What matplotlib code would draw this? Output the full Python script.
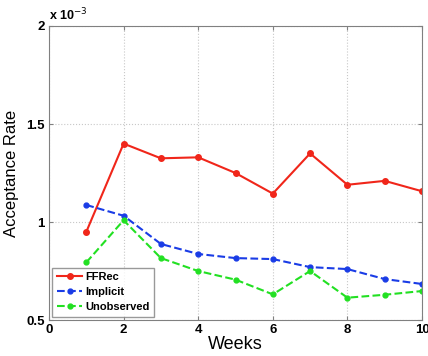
import matplotlib
matplotlib.use("Agg")
import matplotlib.pyplot as plt

plt.rcParams["font.family"] = ["Liberation Sans", "DejaVu Sans"]

# values, in units of 1e-3
weeks = [1, 2, 3, 4, 5, 6, 7, 8, 9, 10]
ffrec = [0.95, 1.40, 1.325, 1.33, 1.25, 1.145, 1.35, 1.19, 1.21, 1.157]
implicit = [1.087, 1.032, 0.888, 0.837, 0.816, 0.811, 0.770, 0.760, 0.709, 0.684]
unobserved = [0.794, 1.009, 0.816, 0.750, 0.706, 0.631, 0.750, 0.614, 0.629, 0.648]

x_ticks = [0, 2, 4, 6, 8, 10]
y_ticks = [0.5, 1, 1.5, 2]
y_labels = ["0.5", "1", "1.5", "2"]

fig = plt.figure(figsize=(4.28, 3.56), dpi=100)
ax = fig.add_axes([0.1145, 0.101, 0.8715, 0.826])

ax.plot(weeks, ffrec, color="#f0261a", linestyle="-", linewidth=1.5,
        marker="o", markersize=4, label="FFRec")
ax.plot(weeks, implicit, color="#1a3ce6", linestyle="--", linewidth=1.5,
        marker="o", markersize=3.5, markerfacecolor="#1a3ce6", label="Implicit")
ax.plot(weeks, unobserved, color="#22e022", linestyle="--", linewidth=1.5,
        marker="o", markersize=3.5, markerfacecolor="#22e022", label="Unobserved")

ax.set_xlim(0, 10)
ax.set_ylim(0.5, 2)
ax.set_xticks(x_ticks)
ax.set_yticks(y_ticks)
ax.set_yticklabels(y_labels)
ax.grid(True, color="#c8c8c8", linestyle=":", linewidth=0.8)
ax.tick_params(direction="in", top=True, right=True, length=3, color="#808080",
               labelsize=9.5, pad=3)
for lbl in ax.get_xticklabels() + ax.get_yticklabels():
    lbl.set_fontweight("bold")
for sp in ax.spines.values():
    sp.set_color("#808080")

ax.set_xlabel("Weeks", fontsize=13, labelpad=0)
ax.set_ylabel("Acceptance Rate", fontsize=12, labelpad=5)
ax.text(0.0, 1.01, r"x 10$^{-3}$", transform=ax.transAxes, fontsize=9,
        fontweight="bold", ha="left", va="bottom")

leg = ax.legend(loc="lower left", fancybox=False, edgecolor="#808080",
                fontsize=8, borderaxespad=0.3, handlelength=2.3,
                handletextpad=0.3, labelspacing=0.45, borderpad=0.4)
leg.get_frame().set_linewidth(1.0)
for t in leg.get_texts():
    t.set_fontweight("bold")

fig.savefig("out.png", dpi=100)
